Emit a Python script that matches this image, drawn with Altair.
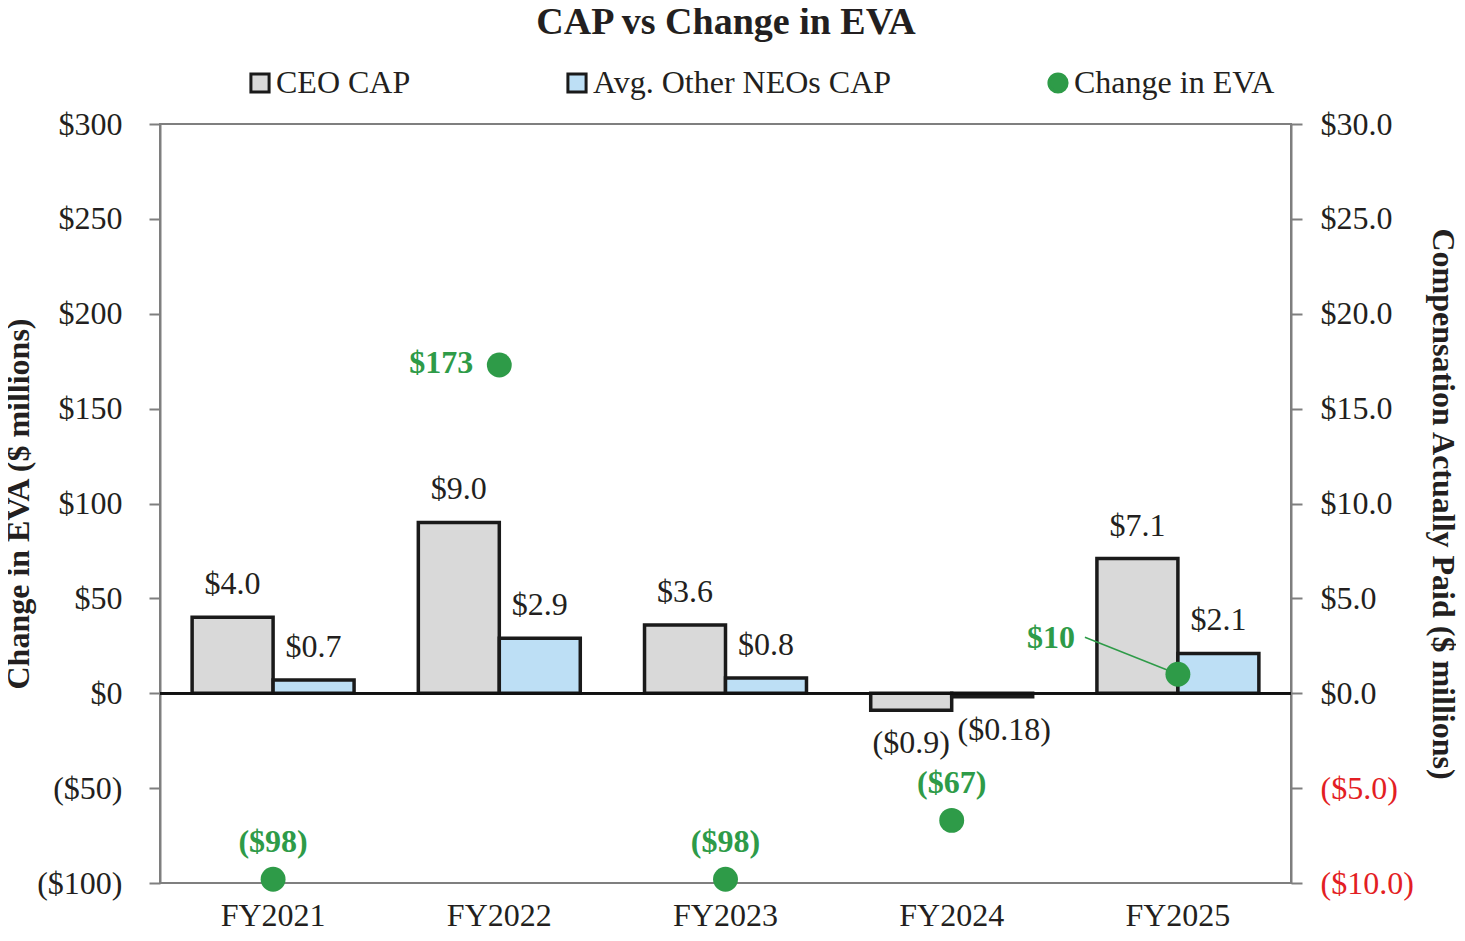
import altair as alt
import pandas as pd

# ---------------- data ----------------
years = ["FY2021", "FY2022", "FY2023", "FY2024", "FY2025"]
ceo_cap = [4.0, 9.0, 3.6, -0.9, 7.1]
neo_cap = [0.7, 2.9, 0.8, -0.18, 2.1]
eva_change = [-98, 173, -98, -67, 10]

series_names = ["CEO CAP", "Avg. Other NEOs CAP", "Change in EVA"]
cap_ticks = [-10, -5, 0, 5, 10, 15, 20, 25, 30]
eva_ticks = [-100, -50, 0, 50, 100, 150, 200, 250, 300]
chart_title = "CAP vs Change in EVA"

# ---------------- styles ----------------
FONT = "Liberation Serif"
TXT = "#231f20"
GREEN = "#2e9b48"
RED = "#e31e24"
AXIS_GRAY = "#7f7f7f"
fill_colors = ["#d9d9d9", "#bddff5", GREEN]
stroke_colors = ["#1a1a1a", "#1a1a1a", GREEN]
shapes = ["square", "square", "circle"]


def money(v, dec):
    s = f"${abs(v):.{dec}f}"
    return f"({s})" if v < 0 else s


def cap_label(v):
    dec = 1 if round(v, 1) == v else 2
    return money(v, dec)


bars_rows = []
for y, c, n in zip(years, ceo_cap, neo_cap):
    bars_rows.append({"year": y, "series": series_names[0], "value": c, "label": cap_label(c)})
    bars_rows.append({"year": y, "series": series_names[1], "value": n, "label": cap_label(n)})
bars_df = pd.DataFrame(bars_rows)

eva_df = pd.DataFrame({
    "year": years,
    "series": [series_names[2]] * len(years),
    "value": eva_change,
    "label": [money(v, 0) for v in eva_change],
})

# ---------------- encodings ----------------
x_scale = alt.Scale(paddingInner=0.284, paddingOuter=0.142)
x_enc = alt.X(
    "year:N", sort=years, scale=x_scale,
    axis=alt.Axis(title=None, labelAngle=0, domain=False, ticks=False,
                  labelPadding=17, labelFontSize=32, labelFont=FONT,
                  labelColor=TXT),
)
x_enc_noaxis = alt.X("year:N", sort=years, scale=x_scale, axis=None)
xoff_enc = alt.XOffset("series:N", sort=series_names[:2],
                       scale=alt.Scale(domain=series_names[:2], paddingInner=0, paddingOuter=0))

cap_axis = alt.Axis(
    orient="right", values=cap_ticks, grid=False,
    title="Compensation Actually Paid ($ millions)",
    labelExpr="datum.value < 0 ? '($' + format(-datum.value, '.1f') + ')' : '$' + format(datum.value, '.1f')",
    labelColor={"condition": {"test": "datum.value < 0", "value": RED}, "value": TXT},
    labelFont=FONT, labelFontSize=32, labelPadding=18,
    titleFont=FONT, titleFontSize=32, titleFontWeight="bold", titleColor=TXT,
    titlePadding=12,
    domainColor=AXIS_GRAY, domainWidth=2, tickColor=AXIS_GRAY, tickWidth=2, tickSize=11,
)
eva_axis = alt.Axis(
    orient="left", values=eva_ticks, grid=False,
    title="Change in EVA ($ millions)",
    labelExpr="datum.value < 0 ? '($' + format(-datum.value, 'd') + ')' : '$' + format(datum.value, 'd')",
    labelColor=TXT, labelFont=FONT, labelFontSize=32, labelPadding=27,
    titleFont=FONT, titleFontSize=32, titleFontWeight="bold", titleColor=TXT,
    titlePadding=1,
    domainColor=AXIS_GRAY, domainWidth=2, tickColor=AXIS_GRAY, tickWidth=2, tickSize=11,
)
cap_scale = alt.Scale(domain=[-10, 30], nice=False, zero=False)
eva_scale = alt.Scale(domain=[-100, 300], nice=False, zero=False)

legend = alt.Legend(
    orient="none", legendX=84, legendY=-57, direction="horizontal", title=None,
    labelFont=FONT, labelFontSize=32, labelColor=TXT, symbolSize=330, labelLimit=500,
    symbolStrokeWidth=3, columnPadding=150, labelOffset=0,
)
fill_enc = alt.Fill("series:N", scale=alt.Scale(domain=series_names, range=fill_colors), legend=legend)
stroke_enc = alt.Stroke("series:N", scale=alt.Scale(domain=series_names, range=stroke_colors), legend=legend)
shape_enc = alt.Shape("series:N", scale=alt.Scale(domain=series_names, range=shapes), legend=legend)

cap_y = alt.Y("value:Q", scale=cap_scale, axis=cap_axis)
eva_y = alt.Y("value:Q", scale=eva_scale, axis=eva_axis)

# ---------------- CAP layers ----------------
bars = alt.Chart().mark_bar(strokeWidth=3.5).encode(
    x=x_enc, xOffset=xoff_enc, y=cap_y, fill=fill_enc, stroke=stroke_enc,
)
bar_text_pos = alt.Chart().mark_text(
    font=FONT, fontSize=32, color=TXT, baseline="alphabetic", dy=-23
).encode(x=x_enc, xOffset=xoff_enc, y=cap_y, text="label:N").transform_filter("datum.value >= 0")
bar_text_neg_ceo = alt.Chart().mark_text(
    font=FONT, fontSize=32, color=TXT, baseline="top", dy=18
).encode(x=x_enc, xOffset=xoff_enc, y=cap_y, text="label:N").transform_filter(
    "datum.value < 0 && datum.series == 'CEO CAP'")
bar_text_neg_neo = alt.Chart().mark_text(
    font=FONT, fontSize=32, color=TXT, baseline="top", dy=18, dx=12
).encode(x=x_enc, xOffset=xoff_enc, y=cap_y, text="label:N").transform_filter(
    "datum.value < 0 && datum.series != 'CEO CAP'")

cap_layer = alt.layer(bars, bar_text_pos, bar_text_neg_ceo, bar_text_neg_neo, data=bars_df)

# ---------------- EVA layers ----------------
zero_rule = alt.Chart().mark_rule(color="#111111", strokeWidth=2.5).encode(
    y=alt.Y(datum=0, scale=eva_scale, axis=eva_axis)
)
leader = alt.Chart().mark_rule(color=GREEN, strokeWidth=1.5, x2Offset=-93, y2Offset=-37).encode(
    x=alt.X("year:N", sort=years, scale=x_scale, axis=None, bandPosition=0.5),
    x2=alt.X2("year:N", bandPosition=0.5),
    y=eva_y, y2=alt.Y2("value:Q"),
).transform_filter(alt.FieldEqualPredicate(field="year", equal="FY2025"))
points = alt.Chart().mark_point(filled=True, size=620, opacity=1, strokeWidth=0).encode(
    x=x_enc_noaxis, y=eva_y, fill=fill_enc, stroke=stroke_enc, shape=shape_enc,
)
eva_text_above = alt.Chart().mark_text(
    font=FONT, fontSize=32, fontWeight="bold", color=GREEN, baseline="middle", dy=-37
).encode(x=x_enc_noaxis, y=eva_y, text="label:N").transform_filter(
    alt.FieldOneOfPredicate(field="year", oneOf=["FY2021", "FY2023", "FY2024"]))
eva_text_left = alt.Chart().mark_text(
    font=FONT, fontSize=32, fontWeight="bold", color=GREEN, baseline="middle", align="right", dx=-26, dy=-2
).encode(x=x_enc_noaxis, y=eva_y, text="label:N").transform_filter(
    alt.FieldEqualPredicate(field="year", equal="FY2022"))
eva_text_lead = alt.Chart().mark_text(
    font=FONT, fontSize=32, fontWeight="bold", color=GREEN, baseline="middle", align="right", dx=-103, dy=-36
).encode(x=x_enc_noaxis, y=eva_y, text="label:N").transform_filter(
    alt.FieldEqualPredicate(field="year", equal="FY2025"))

eva_layer = alt.layer(zero_rule, leader, points, eva_text_above, eva_text_left, eva_text_lead, data=eva_df)

# ---------------- chart title (as a top axis title) ----------------
title_layer = alt.Chart(eva_df).mark_text(text="", opacity=0).encode(
    x=alt.X("year:N", sort=years, scale=x_scale,
            axis=alt.Axis(orient="top", title=chart_title, labels=False, ticks=False, domain=False,
                          grid=False, titleFont=FONT, titleFontSize=38, titleFontWeight="bold",
                          titleColor=TXT, titlePadding=83)),
)

chart = alt.layer(cap_layer, eva_layer, title_layer).resolve_scale(y="independent", x="independent").properties(
    width=1131, height=759,
    background="white",
    autosize=alt.AutoSizeParams(type="none"),
    padding={"left": 152, "top": 116, "right": 165, "bottom": 50},
).configure_view(stroke=AXIS_GRAY, strokeWidth=2)

chart.save("out.html", embed_options={"renderer": "svg", "actions": False})
